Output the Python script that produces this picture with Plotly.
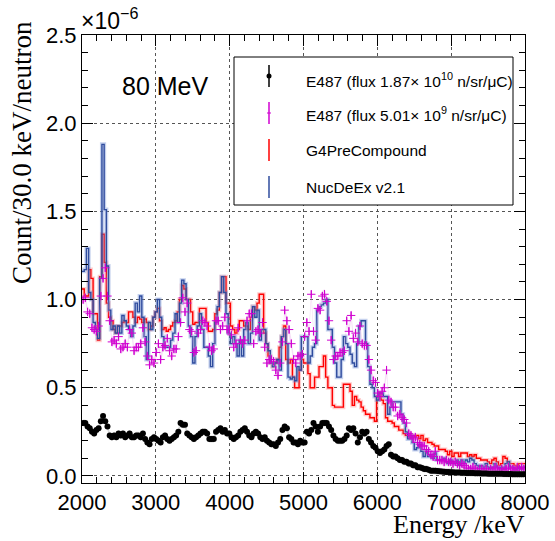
import plotly.graph_objects as go

# ---------------- data (units of 1e-6 counts / 30 keV / neutron) ----------------
E_MIN = 2000
BIN_W = 30  # keV

nucdeex = [
    1.16, 1.17, 1.29, 1.04, 1.00, 0.87, 0.83, 0.78, 1.12, 1.88,
    1.51, 1.19, 0.94, 0.83, 0.85, 0.81, 0.85, 0.81, 0.91, 0.88,
    0.85, 0.83, 0.79, 0.85, 0.98, 0.93, 1.02, 0.90, 0.79, 0.66,
    0.87, 0.83, 0.90, 0.93, 1.00, 0.90, 0.79, 0.73, 0.73, 0.73,
    0.77, 0.81, 0.92, 0.87, 0.98, 1.11, 1.09, 1.00, 0.85, 0.79,
    0.64, 0.79, 0.85, 0.92, 0.83, 0.73, 0.73, 0.68, 0.62, 0.75,
    0.87, 0.96, 1.04, 1.13, 1.04, 0.92, 0.81, 0.75, 0.79, 0.75,
    0.68, 0.77, 0.68, 0.83, 0.87, 0.75, 0.81, 0.96, 0.90, 0.94,
    0.77, 0.83, 0.83, 0.75, 0.71, 0.64, 0.62, 0.64, 0.66, 0.60,
    0.79, 0.83, 0.75, 0.56, 0.55, 0.56, 0.54, 0.62, 0.60, 0.79,
    0.79, 0.79, 0.64, 0.68, 0.73, 0.75, 0.94, 0.96, 0.97, 0.98,
    1.00, 0.83, 0.83, 0.73, 0.64, 0.56, 0.56, 0.66, 0.79, 0.75,
    0.73, 0.69, 0.64, 0.62, 0.75, 0.85, 0.88, 0.88, 0.75, 0.62,
    0.52, 0.50, 0.45, 0.43, 0.47, 0.47, 0.45, 0.45, 0.35, 0.39,
    0.42, 0.42, 0.42, 0.42, 0.35, 0.30, 0.25, 0.21, 0.23, 0.19,
    0.15, 0.16, 0.18, 0.14, 0.11, 0.14, 0.11, 0.12, 0.10, 0.13,
    0.09, 0.09, 0.09, 0.10, 0.08, 0.07, 0.09, 0.08, 0.07, 0.09,
    0.06, 0.09, 0.07, 0.09, 0.08, 0.10, 0.09, 0.07, 0.06, 0.05,
    0.06, 0.05, 0.07, 0.05, 0.04, 0.05, 0.07, 0.05, 0.04, 0.05,
    0.03, 0.07, 0.08, 0.05, 0.05, 0.03, 0.04, 0.05, 0.04, 0.05,
]

g4precompound = [
    1.06, 1.02, 1.02, 1.17, 1.12, 0.92, 0.92, 0.77, 1.13, 1.37,
    1.21, 0.98, 0.90, 0.88, 0.83, 0.81, 0.85, 0.85, 0.87, 0.88,
    0.87, 0.93, 0.93, 0.90, 0.87, 0.90, 0.89, 0.87, 0.89, 0.87,
    0.83, 0.85, 0.90, 0.93, 0.95, 0.88, 0.83, 0.84, 0.82, 0.83,
    0.85, 0.87, 0.88, 0.93, 1.00, 1.08, 1.06, 1.00, 1.00, 0.93,
    0.86, 0.87, 0.87, 0.95, 0.95, 0.95, 0.87, 0.82, 0.82, 0.83,
    0.92, 0.94, 1.04, 1.13, 1.13, 0.98, 0.98, 0.85, 0.83, 0.81,
    0.83, 0.88, 0.88, 0.85, 0.85, 0.83, 0.90, 0.96, 0.94, 0.98,
    1.03, 1.03, 0.81, 0.75, 0.68, 0.64, 0.62, 0.64, 0.66, 0.73,
    0.79, 0.85, 0.66, 0.64, 0.66, 0.56, 0.50, 0.50, 0.60, 0.66,
    0.64, 0.64, 0.58, 0.50, 0.50, 0.56, 0.56, 0.62, 0.62, 0.68,
    0.56, 0.50, 0.50, 0.40, 0.39, 0.39, 0.39, 0.39, 0.52, 0.52,
    0.52, 0.48, 0.40, 0.45, 0.43, 0.42, 0.39, 0.37, 0.35, 0.35,
    0.33, 0.33, 0.31, 0.45, 0.47, 0.43, 0.41, 0.33, 0.31, 0.31,
    0.30, 0.28, 0.28, 0.26, 0.26, 0.24, 0.23, 0.24, 0.22, 0.23,
    0.22, 0.23, 0.21, 0.23, 0.20, 0.21, 0.19, 0.19, 0.18, 0.17,
    0.17, 0.15, 0.15, 0.15, 0.14, 0.12, 0.14, 0.11, 0.13, 0.13,
    0.11, 0.13, 0.13, 0.13, 0.11, 0.12, 0.11, 0.12, 0.10, 0.10,
    0.09, 0.09, 0.09, 0.08, 0.07, 0.09, 0.10, 0.08, 0.06, 0.07,
    0.11, 0.10, 0.08, 0.07, 0.07, 0.06, 0.05, 0.07, 0.07, 0.07,
]

e487_low_flux = [
    1.00, 1.01, 0.93, 0.92, 0.84, 0.83, 0.82, 0.85, 1.02, 1.12,
    1.18, 1.02, 0.88, 0.76, 0.77, 0.75, 0.79, 0.72, 0.73, 0.75,
    0.73, 0.83, 0.81, 0.71, 0.73, 0.73, 0.75, 0.84, 0.76, 0.68,
    0.63, 0.66, 0.64, 0.70, 0.75, 0.66, 0.73, 0.74, 0.78, 0.71,
    0.68, 0.72, 0.72, 0.79, 0.87, 1.01, 0.93, 0.98, 0.83, 0.82,
    0.70, 0.71, 0.81, 0.83, 0.88, 0.87, 0.85, 0.73, 0.71, 0.72,
    0.88, 0.88, 0.83, 0.85, 0.90, 0.83, 0.83, 0.80, 0.73, 0.75,
    0.84, 0.77, 0.75, 0.77, 0.88, 0.92, 0.92, 0.75, 0.82, 0.83,
    0.81, 0.87, 0.73, 0.64, 0.66, 0.66, 0.65, 0.60, 0.57, 0.64,
    0.76, 0.94, 0.88, 0.83, 0.75, 0.66, 0.64, 0.68, 0.68, 0.69,
    0.79, 0.87, 0.82, 1.03, 0.82, 0.77, 0.95, 0.94, 1.02, 1.03,
    0.99, 0.88, 0.77, 0.66, 0.68, 0.68, 0.70, 0.70, 0.71, 0.88,
    0.82, 0.91, 0.78, 0.81, 0.76, 0.85, 0.75, 0.74, 0.74, 0.66,
    0.60, 0.54, 0.53, 0.47, 0.45, 0.48, 0.50, 0.60, 0.43, 0.42,
    0.39, 0.39, 0.34, 0.35, 0.33, 0.32, 0.30, 0.24, 0.23, 0.21,
    0.22, 0.19, 0.18, 0.17, 0.17, 0.15, 0.14, 0.12, 0.11, 0.14,
    0.09, 0.09, 0.09, 0.08, 0.09, 0.08, 0.08, 0.07, 0.08, 0.07,
    0.06, 0.07, 0.06, 0.05, 0.04, 0.04, 0.05, 0.04, 0.03, 0.04,
    0.04, 0.03, 0.04, 0.03, 0.04, 0.03, 0.05, 0.04, 0.03, 0.04,
    0.03, 0.04, 0.05, 0.04, 0.04, 0.03, 0.05, 0.04, 0.05, 0.04,
]

e487_high_flux = [
    0.30, 0.30, 0.28, 0.27, 0.25, 0.24, 0.26, 0.27, 0.31, 0.34,
    0.31, 0.28, 0.23, 0.22, 0.23, 0.22, 0.24, 0.23, 0.24, 0.22,
    0.23, 0.24, 0.22, 0.22, 0.23, 0.23, 0.22, 0.24, 0.21, 0.19,
    0.18, 0.21, 0.22, 0.21, 0.20, 0.19, 0.22, 0.23, 0.21, 0.20,
    0.21, 0.22, 0.23, 0.25, 0.30, 0.29, 0.29, 0.24, 0.23, 0.22,
    0.21, 0.22, 0.23, 0.24, 0.25, 0.25, 0.24, 0.21, 0.21, 0.21,
    0.25, 0.26, 0.27, 0.25, 0.26, 0.24, 0.24, 0.22, 0.21, 0.22,
    0.23, 0.25, 0.26, 0.27, 0.25, 0.23, 0.22, 0.24, 0.25, 0.24,
    0.22, 0.21, 0.22, 0.20, 0.19, 0.18, 0.18, 0.17, 0.19, 0.21,
    0.26, 0.28, 0.27, 0.22, 0.21, 0.19, 0.19, 0.18, 0.20, 0.19,
    0.19, 0.25, 0.24, 0.26, 0.30, 0.28, 0.25, 0.28, 0.30, 0.30,
    0.30, 0.28, 0.26, 0.23, 0.21, 0.20, 0.20, 0.20, 0.21, 0.23,
    0.27, 0.26, 0.27, 0.24, 0.19, 0.22, 0.25, 0.24, 0.25, 0.21,
    0.19, 0.17, 0.16, 0.14, 0.13, 0.14, 0.15, 0.17, 0.18, 0.12,
    0.11, 0.11, 0.10, 0.09, 0.09, 0.08, 0.08, 0.07, 0.07, 0.06,
    0.06, 0.05, 0.05, 0.045, 0.04, 0.04, 0.035, 0.03, 0.03, 0.03,
    0.028, 0.026, 0.025, 0.024, 0.023, 0.022, 0.021, 0.021, 0.020, 0.019,
    0.019, 0.018, 0.018, 0.017, 0.017, 0.016, 0.016, 0.015, 0.015, 0.015,
    0.014, 0.014, 0.014, 0.013, 0.013, 0.013, 0.012, 0.012, 0.012, 0.012,
    0.011, 0.011, 0.011, 0.011, 0.010, 0.010, 0.010, 0.010, 0.010, 0.010,
]

x_ticks = [2000, 3000, 4000, 5000, 6000, 7000, 8000]
y_ticks = [0.0, 0.5, 1.0, 1.5, 2.0, 2.5]

legend_labels = [
    "E487 (flux 1.87\u00d7 10<sup>10</sup> n/sr/\u03bcC)",
    "E487 (flux 5.01\u00d7 10<sup>9</sup> n/sr/\u03bcC)",
    "G4PreCompound",
    "NucDeEx v2.1",
]

# ---------------- derived ----------------
n_bins = len(nucdeex)
edges = [E_MIN + BIN_W * i for i in range(n_bins + 1)]
centers = [E_MIN + BIN_W * (i + 0.5) for i in range(n_bins)]

RED = "#ff0000"
BLUE = "#2f4c9e"
MAG = "#d000d0"

fig = go.Figure()


def add_hist(vals, color, halo):
    y = list(vals) + [vals[-1]]
    fig.add_trace(go.Scatter(x=edges, y=y, mode="lines", line_shape="hv",
                             line=dict(color=halo, width=4), hoverinfo="skip",
                             showlegend=False))
    fig.add_trace(go.Scatter(x=edges, y=y, mode="lines", line_shape="hv",
                             line=dict(color=color, width=1.4), showlegend=False))


add_hist(g4precompound, RED, "rgba(255,130,130,0.4)")
add_hist(nucdeex, BLUE, "rgba(110,140,210,0.4)")


def add_band(vals, err, color):
    fig.add_trace(go.Scatter(x=centers, y=[v + err for v in vals], mode="lines",
                             line=dict(width=0, color=color), hoverinfo="skip",
                             showlegend=False))
    fig.add_trace(go.Scatter(x=centers, y=[max(v - err, -0.03) for v in vals], mode="lines",
                             line=dict(width=0, color=color), fill="tonexty",
                             fillcolor=color, hoverinfo="skip", showlegend=False))


add_band(e487_low_flux, 0.03, "rgba(225,150,225,0.3)")
fig.add_trace(go.Scatter(
    x=centers, y=e487_low_flux, mode="markers",
    marker=dict(symbol="cross-thin", size=6, line=dict(color=MAG, width=1), color=MAG),
    error_y=dict(type="constant", value=0.022, color=MAG, thickness=1, width=0),
    showlegend=False))

add_band(e487_high_flux, 0.02, "rgba(170,170,170,0.45)")
fig.add_trace(go.Scatter(
    x=centers, y=e487_high_flux, mode="markers",
    marker=dict(symbol="circle", size=6, color="black"),
    showlegend=False))

# ---------------- layout / pixel helpers ----------------
W, H = 555, 541
L, R, T, B = 82, 30, 35, 58
PW, PH = W - L - R, H - T - B


def px(x):
    return (x - L) / PW


def py(y):
    return (H - B - y) / PH


FONT = "Liberation Sans, Arial, Helvetica, sans-serif"
SERIF = "Liberation Serif, Times New Roman, serif"

axis_common = dict(
    showline=True, linecolor="black", linewidth=1, mirror="allticks",
    ticks="inside", tickcolor="black", showgrid=True, gridcolor="#555555",
    griddash="dot", gridwidth=1, zeroline=False, automargin=False,
    tickfont=dict(family=FONT, size=22, color="black"),
)

fig.update_xaxes(range=[2000, 8000], tickvals=x_ticks, ticklen=11,
                 minor=dict(dtick=200, ticklen=6, ticks="inside", tickcolor="black", showgrid=False),
                 **axis_common)
fig.update_yaxes(range=[-0.04, 2.5], tickvals=y_ticks, ticktext=[f"{v:.1f}" for v in y_ticks],
                 ticklen=11,
                 minor=dict(dtick=0.1, ticklen=6, ticks="inside", tickcolor="black", showgrid=False),
                 **axis_common)

shapes = [dict(type="rect", xref="paper", yref="paper", x0=px(234), x1=px(513),
               y0=py(205), y1=py(57), line=dict(color="black", width=1),
               fillcolor="white", layer="above")]
sym_x = px(269)
sym_rows = [(65, 87, "black"), (102, 124, MAG), (139, 161, RED), (176, 198, BLUE)]
for (ya, yb, c) in sym_rows:
    shapes.append(dict(type="line", xref="paper", yref="paper", x0=sym_x, x1=sym_x,
                       y0=py(ya), y1=py(yb), line=dict(color=c, width=1.5), layer="above"))
shapes.append(dict(type="circle", xref="paper", yref="paper", x0=px(266.5), x1=px(271.5),
                   y0=py(73.5), y1=py(78.5), fillcolor="black", line=dict(color="black", width=0),
                   layer="above"))
shapes.append(dict(type="line", xref="paper", yref="paper", x0=px(267), x1=px(271),
                   y0=py(113), y1=py(113), line=dict(color=MAG, width=1), layer="above"))

annotations = []
row_y = [80, 114, 150, 187]
for lab, ry in zip(legend_labels, row_y):
    annotations.append(dict(text=lab, xref="paper", yref="paper", x=px(304), y=py(ry),
                            xanchor="left", yanchor="middle", showarrow=False,
                            font=dict(family=FONT, size=15.5, color="black")))

annotations += [
    dict(text="80 MeV", xref="paper", yref="paper", x=px(120), y=py(86), xanchor="left",
         yanchor="middle", showarrow=False, font=dict(family=FONT, size=25, color="black")),
    dict(text="\u00d710<sup>\u22126</sup>", xref="paper", yref="paper", x=px(79), y=py(19),
         xanchor="left", yanchor="middle", showarrow=False,
         font=dict(family=FONT, size=23, color="black")),
    dict(text="Count/30.0 keV/neutron", xref="paper", yref="paper", x=px(22), y=py(153),
         xanchor="center", yanchor="middle", textangle=-90, showarrow=False,
         font=dict(family=SERIF, size=27, color="black")),
    dict(text="Energy /keV", xref="paper", yref="paper", x=px(526), y=py(540),
         xanchor="right", yanchor="bottom", showarrow=False, borderpad=0,
         font=dict(family=SERIF, size=26, color="black")),
]

fig.update_layout(
    width=W, height=H, autosize=False,
    margin=dict(l=L, r=R, t=T, b=B, pad=0),
    paper_bgcolor="white", plot_bgcolor="white",
    showlegend=False, shapes=shapes, annotations=annotations,
)

fig.write_html(
    "out.html",
    config={"displayModeBar": False},
    post_script=("document.documentElement.style.margin='0';"
                 "document.documentElement.style.overflow='hidden';"
                 "document.body.style.margin='0';document.body.style.padding='0';"
                 "document.body.style.overflow='hidden';"),
)
